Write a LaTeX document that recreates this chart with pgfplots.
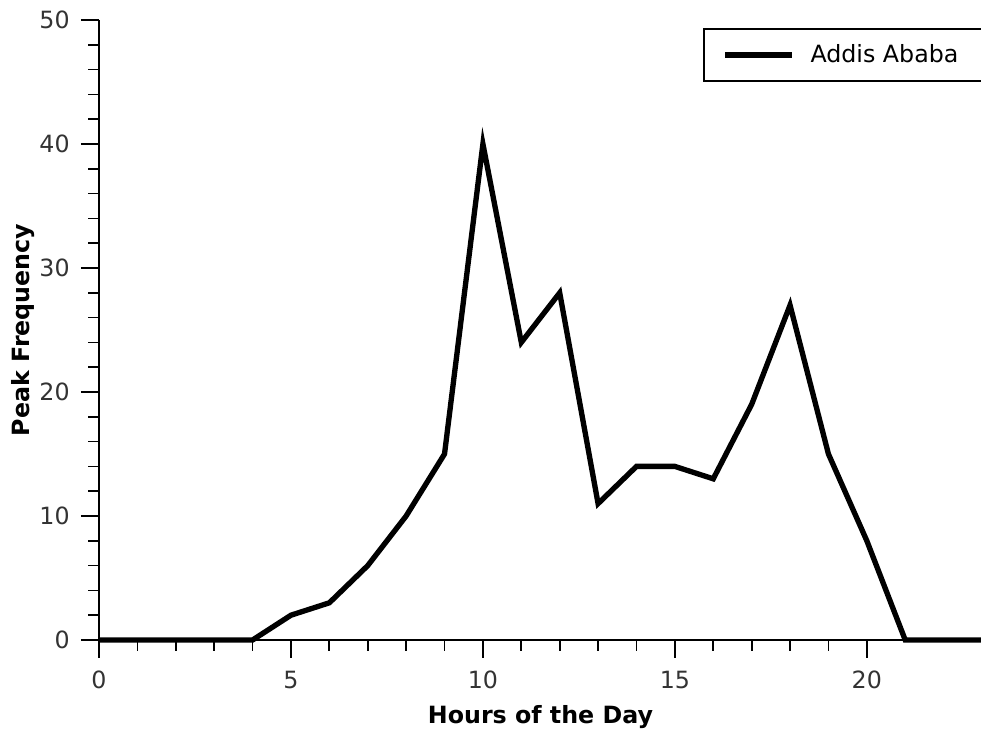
\documentclass[border=0pt]{standalone}
\usepackage{fontspec}
\setmainfont{DejaVu Sans}
\usepackage{pgfplots}
\pgfplotsset{compat=1.18}
\begin{document}
\begin{tikzpicture}
\begin{axis}[
  scale only axis,
  width=662.25pt, height=465pt,
  xmin=0, xmax=23, ymin=0, ymax=50,
  axis x line*=bottom, axis y line*=left,
  axis line style={line width=1.3pt},
  xtick={0,5,10,15,20}, ytick={0,10,20,30,40,50},
  minor x tick num=4, minor y tick num=4,
  xtick align=outside, ytick align=outside,
  major tick length=13.5pt, minor tick length=8pt,
  every tick/.style={line width=1.3pt, black},
  /pgf/number format/assume math mode=true,
  tick label style={font=\fontsize{17.8}{21}\selectfont, text=black!80},
  xticklabel style={yshift=-6pt},
  yticklabel style={xshift=-5pt},
  label style={font=\fontsize{17.8}{21}\selectfont\bfseries},
  xlabel={Hours of the Day},
  ylabel={Peak Frequency},
  xlabel style={yshift=-6pt},
  ylabel style={yshift=-3.5pt},
  clip=false,
  legend style={at={(rel axis cs:0.684,0.987)}, anchor=north west,
    draw=black, line width=1.3pt, font=\fontsize{17.8}{21}\selectfont,
    inner xsep=14pt, inner ysep=10pt, row sep=0pt},
  legend cell align=left,
  legend image code/.code={\draw[line width=4pt] (0pt,0pt) -- (50pt,0pt);},
  legend style={nodes={inner xsep=12pt}},
]
\addplot[black, line width=4pt, line join=miter, miter limit=10] coordinates {
(0,0) (1,0) (2,0) (3,0) (4,0) (5,2) (6,3) (7,6) (8,10) (9,15) (10,40)
(11,24) (12,28) (13,11) (14,14) (15,14) (16,13) (17,19) (18,27) (19,15)
(20,8) (21,0) (22,0) (23,0)};
\addlegendentry{Addis Ababa}
\end{axis}
\pgfresetboundingbox
\path (-74.25pt,-68.25pt) rectangle (661.5pt,480pt);
\end{tikzpicture}
\end{document}
